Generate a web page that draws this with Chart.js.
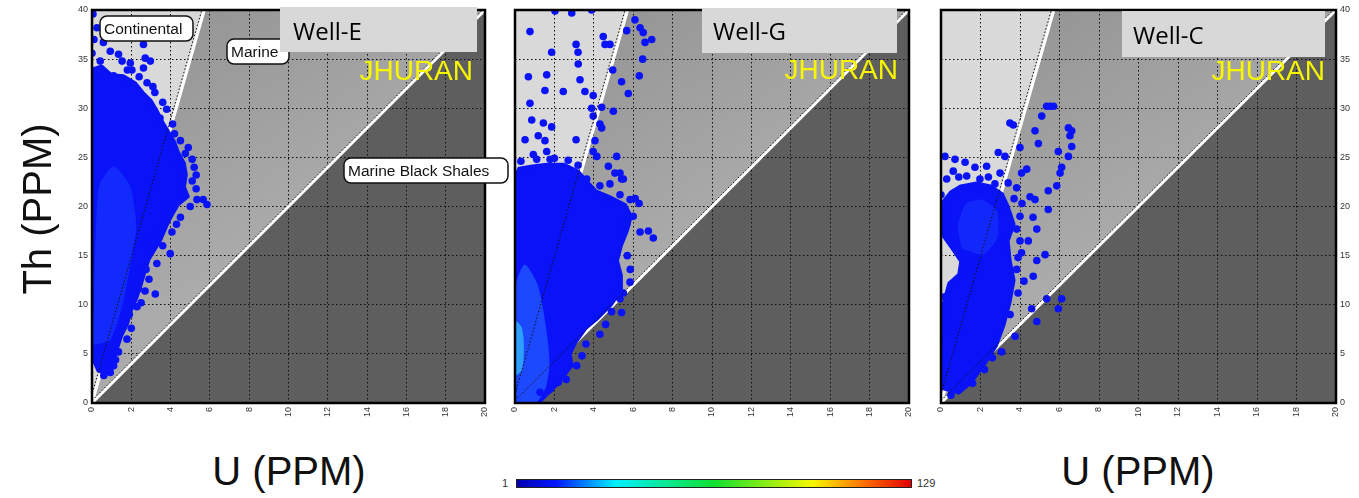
<!DOCTYPE html>
<html>
<head>
<meta charset="utf-8">
<script src="https://cdn.jsdelivr.net/npm/chart.js@4/dist/chart.umd.min.js"></script>
<style>
  html, body { margin:0; padding:0; background:#fff; width:1359px; height:498px; overflow:hidden; position:relative;
               font-family:"Liberation Sans", Arial, sans-serif; }
  canvas { position:absolute; top:0; }
  .axtitle { position:absolute; font-size:40px; line-height:40px; height:40px; color:#111; white-space:nowrap; text-align:center; width:220px; }
  .cbar { position:absolute; left:516px; top:479px; width:396px; height:9px; box-sizing:border-box; border:1px solid #222;
          background:linear-gradient(to right,#0000b0 0%,#0018ff 10%,#00f0ff 25%,#10e030 50%,#f8f800 75%,#ff7000 88%,#e00000 100%); }
  .cbl { position:absolute; font-size:11px; line-height:11px; color:#333; top:478px; }
</style>
</head>
<body>
<canvas id="cE" width="470" height="432" style="left:50px"></canvas>
<canvas id="cG" width="430" height="432" style="left:505px"></canvas>
<canvas id="cC" width="429" height="432" style="left:930px"></canvas>

<div class="axtitle" id="thTitle" style="left:-73px; top:189px; transform:rotate(-90deg);"></div>
<div class="axtitle" id="uTitle1" style="left:179px; top:451px;"></div>
<div class="axtitle" id="uTitle2" style="left:1028px; top:451px;"></div>
<div class="cbar"></div>
<div class="cbl" id="cbMin" style="left:502px;"></div>
<div class="cbl" id="cbMax" style="left:917px;"></div>

<script>
// ---- axes, labels and zone ratios ----
const uTicks  = [0, 2, 4, 6, 8, 10, 12, 14, 16, 18, 20];
const thTicks = [0, 5, 10, 15, 20, 25, 30, 35, 40];
const wells = ['Well-E', 'Well-G', 'Well-C'];
const basin = 'JHURAN';
const zoneNames = ['Continental', 'Marine', 'Marine Black Shales'];
const ratioContinental = 7;   // Th/U above this: continental
const ratioBlackShale  = 2;   // Th/U below this: marine black shales
const colorbarRange = [1, 129];
const axisTitles = ['Th (PPM)', 'U (PPM)'];

// ---- Well-E: [U, Th] ppm ----
const wellE_points = [
  [0.05,39.6],[0.25,38.2],[0.6,37.8],[0.1,37.0],[0.58,36.7],[0.93,35.8],[1.35,35.5],[0.42,34.8],[1.53,34.8],
  [1.95,34.6],[2.62,36.5],[2.71,35.1],[2.97,34.8],[2.62,34.1],[2.03,33.9],[0.42,33.9],[1.1,33.3],[0.0,35.6],
  [2.8,32.6],[3.2,31.6],[3.6,30.6],[3.8,29.9],[3.46,29.0],[4.1,28.4],[4.2,27.4],[4.5,26.7],[4.75,25.4],
  [4.9,26.0],[5.1,24.8],[5.2,24.0],[5.3,23.2],[5.1,22.6],[5.3,21.8],[5.34,20.7],[5.66,20.7],[5.85,20.2],
  [5.0,20.0],[4.5,18.9],[4.3,18.2],[4.07,17.4],[3.98,15.2],[3.6,16.0],[3.3,14.2],[3.22,11.1],[2.9,12.6],
  [2.7,11.4],[2.29,9.8],[2.5,10.2],[1.78,6.5],[2.0,7.6],[1.44,7.2],[1.35,5.2],[1.2,4.4],[1.1,3.8],
  [0.93,3.1],[0.6,2.8],[0.0,5.3],[0.0,4.6],[3.1,32.2],[2.4,33.2],[1.8,33.9],[4.4,24.3],[4.6,22.4],
  [3.9,19.6],[3.5,17.6],[3.1,16.3],[2.75,13.6],[2.35,11.6],[1.9,9.0],[1.6,8.1]
];
const wellE_core = [
  [0.0,34.0],[0.5,34.3],[1.0,33.4],[1.6,33.3],[2.2,32.6],[2.6,31.6],[3.0,30.8],[3.3,29.8],[3.6,28.6],
  [3.9,27.6],[4.2,26.6],[4.4,25.5],[4.7,24.4],[4.8,23.2],[4.7,22.0],[4.9,21.0],[4.4,20.2],[4.1,19.2],
  [3.8,18.0],[3.5,16.6],[3.2,15.6],[2.9,14.6],[2.7,13.4],[2.5,12.0],[2.3,10.8],[2.0,9.4],[1.8,8.0],
  [1.5,6.8],[1.3,5.6],[1.1,4.2],[1.0,3.3],[0.7,2.9],[0.3,3.3],[0.1,4.2],[0.0,5.0]
];
const wellE_dense = [[0.1,6.0],[0.9,6.5],[1.5,10.0],[1.9,14.0],[2.2,18.0],[1.9,22.0],[1.1,24.0],[0.4,22.0],[0.2,15.0]];

// ---- Well-G ----
const wellG_points = [
  [2.03,39.9],[2.88,39.7],[3.89,40.0],[0.76,37.8],[6.09,39.0],[6.35,38.2],[6.51,37.7],[5.67,37.9],[6.94,37.0],
  [6.6,36.7],[4.48,37.3],[4.82,36.5],[4.57,36.5],[3.1,36.5],[3.2,35.7],[1.86,35.7],[6.48,35.0],[3.21,34.5],
  [4.96,33.9],[6.31,33.3],[0.68,33.2],[1.61,33.4],[3.3,32.9],[5.41,32.7],[1.52,31.8],[2.45,31.7],[3.55,31.7],
  [3.97,31.3],[5.75,31.5],[0.76,30.5],[3.89,30.0],[4.4,30.1],[4.99,29.7],[3.97,29.2],[0.85,28.8],[1.44,28.5],
  [1.86,28.1],[4.31,28.4],[4.4,28.0],[1.18,27.2],[1.52,26.7],[0.51,26.8],[3.1,26.8],[4.06,26.7],[3.97,25.6],
  [5.16,25.1],[0.93,25.3],[1.61,25.6],[1.78,24.8],[4.15,25.1],[4.74,24.1],[5.07,23.4],[5.33,23.4],[5.5,22.8],
  [5.41,22.8],[4.82,22.3],[4.31,22.1],[3.64,22.8],[5.33,21.2],[5.84,20.7],[6.3,20.3],[6.1,20.8],[6.0,19.0],
  [5.67,18.2],[6.35,17.4],[6.77,17.5],[7.02,16.8],[5.41,17.2],[5.84,12.3],[5.5,11.2],[5.33,10.6],[5.41,9.2],
  [4.31,7.0],[4.6,8.0],[3.13,3.8],[2.6,2.4],[1.78,1.4],[1.27,1.1],[2.0,24.9],[2.7,24.7],[3.2,24.2],
  [4.9,20.4],[5.7,15.0],[5.85,13.6],[4.9,9.3],[3.6,6.0],[3.4,4.8],[2.2,2.1],[0.3,24.6],[1.1,24.8]
];
const wellG_core = [
  [0.0,0.0],[1.2,0.0],[1.6,0.8],[2.1,1.8],[2.5,2.8],[2.9,3.8],[2.8,5.0],[3.1,6.2],[3.6,7.6],[4.2,8.6],
  [4.9,10.0],[5.4,11.5],[5.4,13.0],[5.2,14.5],[5.4,16.0],[5.7,17.5],[5.9,19.0],[5.6,20.2],[4.8,21.0],
  [4.1,21.6],[3.7,22.5],[3.2,23.6],[2.5,24.3],[1.6,24.3],[0.8,24.1],[0.2,23.9],[0.0,23.0]
];
const wellG_dense = [[0.0,0.0],[1.0,0.0],[1.5,1.5],[1.7,4.0],[1.5,8.0],[1.1,12.0],[0.5,14.0],[0.1,12.0]];
const wellG_peak  = [[0.0,2.8],[0.3,3.4],[0.4,5.5],[0.3,7.6],[0.0,8.2]];

// ---- Well-C ----
const wellC_points = [
  [5.35,30.2],[5.52,30.2],[5.7,30.2],[5.1,29.2],[3.49,28.5],[3.66,28.3],[6.45,28.0],[6.62,27.7],[6.53,27.2],
  [4.76,27.7],[6.62,26.1],[4.93,26.4],[4.0,26.0],[6.45,25.1],[5.94,25.6],[2.9,25.5],[3.24,25.1],[0.2,25.1],
  [0.71,24.8],[1.22,24.5],[0.62,23.6],[1.72,24.0],[2.31,24.1],[2.99,23.4],[4.08,23.4],[4.34,23.8],[6.11,24.0],
  [6.03,23.4],[1.3,23.1],[1.97,22.8],[2.73,22.3],[3.83,21.9],[5.43,21.6],[5.86,22.1],[4.51,21.0],[4.76,20.7],
  [0.29,22.8],[4.0,19.0],[4.85,17.7],[4.42,16.5],[4.85,14.5],[5.27,15.1],[4.67,12.9],[3.83,13.6],[5.43,19.7],
  [4.66,18.9],[3.83,17.7],[4.0,16.5],[4.08,15.3],[5.35,10.6],[6.11,10.6],[5.94,9.6],[4.59,9.6],[4.85,8.3],
  [3.75,6.8],[3.07,5.2],[2.6,4.6],[2.2,3.4],[1.6,2.0],[0.5,0.8],[3.5,9.0],[3.9,11.2],[4.2,12.4],[0.0,4.0],
  [4.1,20.3],[3.7,20.8],[0.9,23.0],[2.4,23.0],[3.4,22.4],[0.0,21.2],[0.1,7.5],[0.2,10.8],[1.9,14.2],[3.9,14.8]
];
const wellC_core = [
  [0.0,1.5],[0.9,1.0],[1.5,2.0],[2.2,3.9],[2.8,5.8],[3.2,8.0],[3.5,10.3],[3.7,12.5],[3.5,14.5],[3.4,16.5],
  [3.7,18.2],[3.4,20.0],[3.1,21.3],[2.5,22.1],[1.8,22.4],[1.0,22.1],[0.5,21.5],[0.1,20.5],[0.1,17.0],
  [0.6,15.6],[1.0,14.4],[0.9,13.1],[0.4,12.2],[0.1,10.0],[0.0,6.0]
];
const wellC_dense = [[1.1,15.8],[2.1,15.2],[2.8,16.8],[2.8,19.4],[2.1,20.6],[1.3,20.2],[0.9,18.0]];

// ---- page text ----
document.getElementById('thTitle').textContent = axisTitles[0];
document.getElementById('uTitle1').textContent = axisTitles[1];
document.getElementById('uTitle2').textContent = axisTitles[1];
document.getElementById('cbMin').textContent = colorbarRange[0];
document.getElementById('cbMax').textContent = colorbarRange[1];

const toXY = a => a.map(p => ({ x: p[0], y: p[1] }));
const closed = a => toXY(a.concat([a[0]]));

// Th/U zone backgrounds, painted under the grid
const zonePlugin = {
  id: 'zones',
  beforeDraw(chart) {
    const { ctx, chartArea: a, scales: { x, y } } = chart;
    const X = v => x.getPixelForValue(v), Y = v => y.getPixelForValue(v);
    const xMax = x.max, yMax = y.max, xc = yMax / ratioContinental;
    const poly = (pts, fill) => {
      ctx.beginPath();
      pts.forEach((p, i) => i ? ctx.lineTo(X(p[0]), Y(p[1])) : ctx.moveTo(X(p[0]), Y(p[1])));
      ctx.closePath(); ctx.fillStyle = fill; ctx.fill();
    };
    ctx.save();
    ctx.beginPath(); ctx.rect(a.left, a.top, a.width, a.height); ctx.clip();
    poly([[0, 0], [0, yMax], [xc, yMax]], '#d9d9d9');
    const g = ctx.createLinearGradient(X(xc), Y(yMax), X(12), Y(20));
    g.addColorStop(0, '#969696'); g.addColorStop(1, '#ababab');
    poly([[0, 0], [xc, yMax], [xMax, yMax], [xMax, xMax * ratioBlackShale]], g);
    poly([[0, 0], [xMax, xMax * ratioBlackShale], [xMax, 0]], '#5e5e5e');
    ctx.restore();
  }
};

// dotted edges of the zone boundaries, frame, zone tags, well title and basin name
const decorPlugin = {
  id: 'decor',
  afterDatasetsDraw(chart) {
    const { ctx, chartArea: a, scales: { x, y } } = chart;
    const X = v => x.getPixelForValue(v), Y = v => y.getPixelForValue(v);
    ctx.save();
    ctx.beginPath(); ctx.rect(a.left, a.top, a.width, a.height); ctx.clip();
    ctx.strokeStyle = '#111'; ctx.lineWidth = 1; ctx.setLineDash([1.5, 2]);
    [ratioContinental, ratioBlackShale].forEach(r => {
      const xe = Math.min(x.max, y.max / r);
      ctx.beginPath(); ctx.moveTo(X(0) - 2.5, Y(0)); ctx.lineTo(X(xe) - 2.5, Y(xe * r)); ctx.stroke();
    });
    ctx.restore();
  },
  afterDraw(chart, args, o) {
    const { ctx, chartArea: a } = chart;
    ctx.save();
    ctx.lineWidth = 2.5; ctx.strokeStyle = '#000';
    ctx.strokeRect(a.left, a.top, a.width, a.height);
    (o.tags || []).forEach(t => {
      const [label, bx, by, bw, bh] = t;
      ctx.beginPath(); ctx.roundRect(a.left + bx, a.top + by, bw, bh, 7);
      ctx.fillStyle = '#fff'; ctx.fill(); ctx.lineWidth = 1.5; ctx.strokeStyle = '#111'; ctx.stroke();
      ctx.fillStyle = '#111'; ctx.font = '15.5px "Liberation Sans", Arial, sans-serif';
      ctx.textAlign = 'left'; ctx.textBaseline = 'alphabetic';
      ctx.fillText(label, a.left + bx + 4, a.top + by + 18);
    });
    const [bx, by, bw, bh] = o.box;
    ctx.fillStyle = '#d8d8d8'; ctx.fillRect(a.left + bx, a.top + by, bw, bh);
    ctx.fillStyle = '#000'; ctx.font = '24px "Open Sans", sans-serif';
    ctx.textAlign = 'left'; ctx.textBaseline = 'alphabetic';
    ctx.fillText(o.well, a.left + bx + o.textDx, a.top + by + o.textDy);
    ctx.fillStyle = '#f6f600'; ctx.font = '28px "Liberation Sans", Arial, sans-serif'; ctx.textAlign = 'right';
    ctx.fillText(basin, a.left + o.basinAt[0], a.top + o.basinAt[1]);
    ctx.restore();
  }
};

const dotBlue = 'rgb(10,18,248)';

function makePanel(p) {
  const last = thTicks[thTicks.length - 1];
  const datasets = [
    { type: 'scatter', data: toXY(p.points), pointRadius: 3.8, pointHoverRadius: 3.8,
      backgroundColor: dotBlue, borderWidth: 0, order: 0 },
  ];
  if (p.peak) datasets.push({ type: 'line', data: closed(p.peak), fill: 'shape', backgroundColor: 'rgb(45,160,255)',
    borderColor: 'rgb(45,160,255)', borderWidth: 2, borderJoinStyle: 'round', pointRadius: 0, tension: 0.3, order: 1 });
  datasets.push({ type: 'line', data: closed(p.dense), fill: 'shape', backgroundColor: p.denseColor,
    borderColor: p.denseColor, borderWidth: 2, borderJoinStyle: 'round', pointRadius: 0, tension: 0.2, order: 2 });
  datasets.push({ type: 'line', data: closed(p.core), fill: 'shape', backgroundColor: dotBlue,
    borderColor: dotBlue, borderWidth: 3, borderJoinStyle: 'round', pointRadius: 0, tension: 0, order: 3 });
  [ratioContinental, ratioBlackShale].forEach(r => {
    const xe = Math.min(uTicks[uTicks.length - 1], last / r);
    datasets.push({ type: 'line', data: toXY([[0, 0], [xe, xe * r]]), borderColor: '#ffffff', borderWidth: 3,
      pointRadius: 0, fill: false, order: 4 });
  });

  return new Chart(document.getElementById(p.id), {
    type: 'scatter',
    data: { datasets },
    options: {
      responsive: false, animation: false, events: [],
      layout: { padding: p.pad },
      plugins: { legend: { display: false }, tooltip: { enabled: false },
        decor: { well: p.well, box: p.box, textDx: p.textDx, textDy: p.textDy, basinAt: p.basinAt, tags: p.tags } },
      scales: {
        x: {
          type: 'linear', min: uTicks[0], max: uTicks[uTicks.length - 1], position: 'bottom',
          afterBuildTicks: s => { s.ticks = uTicks.map(v => ({ value: v })); },
          afterFit: s => { s.height = 29; },
          grid: { color: '#0d0d0d', lineWidth: 1, drawTicks: false },
          border: { display: false, dash: [1.5, 2.5] },
          ticks: { autoSkip: false, minRotation: 90, maxRotation: 90, padding: 4, color: '#333',
                   font: { size: 9, family: '"Liberation Sans", Arial, sans-serif' } }
        },
        y: {
          type: 'linear', min: thTicks[0], max: last, position: p.yPos,
          afterBuildTicks: s => { s.ticks = thTicks.map(v => ({ value: v })); },
          afterFit: s => { s.width = p.yWidth; },
          grid: { color: '#0d0d0d', lineWidth: 1, drawTicks: false },
          border: { display: false, dash: [1.5, 2.5] },
          ticks: { display: p.yLabels, padding: 4, color: '#333',
                   font: { size: 9, family: '"Liberation Sans", Arial, sans-serif' } }
        }
      }
    },
    plugins: [zonePlugin, decorPlugin]
  });
}

makePanel({ id: 'cE', well: wells[0], points: wellE_points, core: wellE_core, dense: wellE_dense,
  denseColor: 'rgb(18,42,251)', yPos: 'left', yWidth: 42, yLabels: true,
  pad: { left: 0, right: 35, top: 10, bottom: 0 },
  box: [188, -3, 197, 45], textDx: 13, textDy: 33, basinAt: [381, 70],
  tags: [[zoneNames[0], 8, 6, 93, 25], [zoneNames[1], 135, 29, 62, 25], [zoneNames[2], 252, 148, 164, 25]] });

makePanel({ id: 'cG', well: wells[1], points: wellG_points, core: wellG_core, dense: wellG_dense, peak: wellG_peak,
  denseColor: 'rgb(28,72,254)', yPos: 'left', yWidth: 10, yLabels: false,
  pad: { left: 0, right: 26, top: 10, bottom: 0 },
  box: [187, -2, 195, 45], textDx: 11, textDy: 32, basinAt: [383, 69] });

makePanel({ id: 'cC', well: wells[2], points: wellC_points, core: wellC_core, dense: wellC_dense,
  denseColor: 'rgb(18,40,251)', yPos: 'right', yWidth: 23, yLabels: true,
  pad: { left: 11, right: 0, top: 10, bottom: 0 },
  box: [181, 1, 203, 46], textDx: 11, textDy: 33, basinAt: [384, 70] });
</script>
</body>
</html>
